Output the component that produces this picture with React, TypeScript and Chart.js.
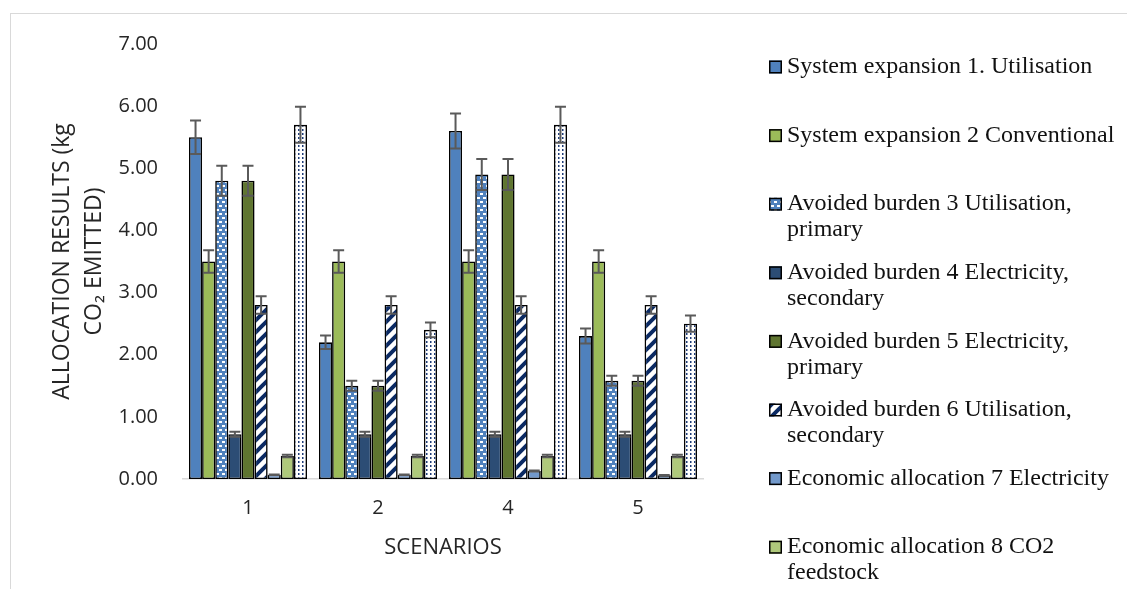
import React, { useEffect, useRef } from 'react';
import { Chart, registerables } from 'chart.js';

Chart.register(...registerables);

// ---------- data ----------
const scenarios = ['1', '2', '4', '5'];

const seriesNames = [
  'System expansion 1. Utilisation',
  'System expansion 2 Conventional',
  'Avoided burden 3 Utilisation, primary',
  'Avoided burden 4 Electricity, secondary',
  'Avoided burden 5 Electricity, primary',
  'Avoided burden 6 Utilisation, secondary',
  'Economic allocation 7 Electricity',
  'Economic allocation 8 CO2 feedstock',
  'Series 9',
];

const legendLines = [
  ['System expansion 1. Utilisation'],
  ['System expansion 2 Conventional'],
  ['Avoided burden 3 Utilisation,', 'primary'],
  ['Avoided burden 4 Electricity,', 'secondary'],
  ['Avoided burden 5 Electricity,', 'primary'],
  ['Avoided burden 6 Utilisation,', 'secondary'],
  ['Economic allocation 7 Electricity'],
  ['Economic allocation 8 CO2', 'feedstock'],
];

const sysExp1 = [5.5, 2.2, 5.6, 2.3];
const sysExp2 = [3.5, 3.5, 3.5, 3.5];
const avoided3 = [4.8, 1.5, 4.9, 1.58];
const avoided4 = [0.72, 0.72, 0.72, 0.72];
const avoided5 = [4.8, 1.5, 4.9, 1.58];
const avoided6 = [2.8, 2.8, 2.8, 2.8];
const econ7 = [0.07, 0.07, 0.13, 0.06];
const econ8 = [0.37, 0.37, 0.37, 0.37];
const series9 = [5.7, 2.4, 5.7, 2.5];

const err1 = [0.27, 0.11, 0.28, 0.12];
const err2 = [0.18, 0.18, 0.18, 0.18];
const err3 = [0.24, 0.08, 0.25, 0.08];
const err4 = [0.04, 0.04, 0.04, 0.04];
const err5 = [0.24, 0.08, 0.25, 0.08];
const err6 = [0.14, 0.14, 0.14, 0.14];
const err7 = [0.004, 0.004, 0.006, 0.003];
const err8 = [0.02, 0.02, 0.02, 0.02];
const err9 = [0.29, 0.12, 0.29, 0.13];

const yMin = 0;
const yMax = 7;
const yStep = 1;

const allSeries = [sysExp1, sysExp2, avoided3, avoided4, avoided5, avoided6, econ7, econ8, series9];
const allErrors = [err1, err2, err3, err4, err5, err6, err7, err8, err9];

// ---------- patterns ----------
function dashPattern(ctx: CanvasRenderingContext2D) {
  const c = document.createElement('canvas');
  c.width = 6; c.height = 8;
  const g = c.getContext('2d')!;
  g.fillStyle = '#4F81BD';
  g.fillRect(0, 0, 6, 8);
  g.fillStyle = '#ffffff';
  g.fillRect(0, 1, 3, 2);
  g.fillRect(3, 5, 3, 2);
  return ctx.createPattern(c, 'repeat')!;
}

function stripePattern(ctx: CanvasRenderingContext2D) {
  const s = 12;
  const c = document.createElement('canvas');
  c.width = s; c.height = s;
  const g = c.getContext('2d')!;
  g.fillStyle = '#ffffff';
  g.fillRect(0, 0, s, s);
  g.strokeStyle = '#0B2A63';
  g.lineWidth = 4;
  g.beginPath();
  g.moveTo(-2, s + 2); g.lineTo(s + 2, -2);
  g.moveTo(-2, 2); g.lineTo(2, -2);
  g.moveTo(s - 2, s + 2); g.lineTo(s + 2, s - 2);
  g.stroke();
  return ctx.createPattern(c, 'repeat')!;
}

function dotPattern(ctx: CanvasRenderingContext2D) {
  const c = document.createElement('canvas');
  c.width = 4; c.height = 4;
  const g = c.getContext('2d')!;
  g.fillStyle = '#ffffff';
  g.fillRect(0, 0, 4, 4);
  g.fillStyle = '#1F3C78';
  g.fillRect(2, 1, 1.5, 2);
  return ctx.createPattern(c, 'repeat')!;
}

// ---------- plugins ----------
const errorBarPlugin = {
  id: 'errorBars',
  afterDatasetsDraw(chart: any) {
    const { ctx } = chart;
    const y = chart.scales.y;
    ctx.save();
    ctx.strokeStyle = '#5A5A5A';
    ctx.lineWidth = 2;
    chart.data.datasets.forEach((ds: any, i: number) => {
      const meta = chart.getDatasetMeta(i);
      const errs = allErrors[i];
      meta.data.forEach((bar: any, j: number) => {
        const v = ds.data[j];
        const e = errs[j];
        const yt = y.getPixelForValue(v + e);
        const yb = y.getPixelForValue(Math.max(0, v - e));
        const x = bar.x;
        const hw = 5.5;
        ctx.beginPath();
        ctx.moveTo(x, yt); ctx.lineTo(x, yb);
        ctx.moveTo(x - hw, yt); ctx.lineTo(x + hw, yt);
        ctx.moveTo(x - hw, yb); ctx.lineTo(x + hw, yb);
        ctx.stroke();
      });
    });
    ctx.restore();
  },
};

const legendPlugin = {
  id: 'customLegend',
  afterDraw(chart: any) {
    const { ctx } = chart;
    ctx.save();
    ctx.font = "24px 'Liberation Serif'";
    ctx.textBaseline = 'middle';
    ctx.textAlign = 'left';
    legendLines.forEach((lines, i) => {
      const yc = 67 + i * 68.6;
      const ds = chart.data.datasets[i];
      ctx.fillStyle = ds.backgroundColor;
      ctx.fillRect(769, yc - 6.5, 13, 13);
      ctx.strokeStyle = '#000';
      ctx.lineWidth = 1.5;
      ctx.strokeRect(769.75, yc - 5.75, 11.5, 11.5);
      ctx.fillStyle = '#111111';
      lines.forEach((t, k) => {
        ctx.fillText(t, 787, yc + k * 26);
      });
    });
    ctx.restore();
  },
};

export default function App() {
  const canvasRef = useRef<HTMLCanvasElement>(null);

  useEffect(() => {
    const canvas = canvasRef.current!;
    const ctx = canvas.getContext('2d')!;
    const fills: any[] = [
      '#4F81BD',
      '#9BBB59',
      dashPattern(ctx),
      '#2C4D75',
      '#5F7530',
      stripePattern(ctx),
      '#7299CB',
      '#AFC97B',
      dotPattern(ctx),
    ];
    const chart = new Chart(canvas, {
      type: 'bar',
      data: {
        labels: scenarios,
        datasets: allSeries.map((d, i) => ({
          label: seriesNames[i],
          data: d,
          backgroundColor: fills[i],
          borderColor: '#000000',
          borderWidth: 1.6,
          borderSkipped: false,
          barPercentage: 1,
          categoryPercentage: 0.908,
        })),
      },
      options: {
        responsive: false,
        devicePixelRatio: 1,
        animation: false,
        layout: { padding: { top: 44, right: 424, bottom: 0, left: 0 } },
        plugins: {
          legend: { display: false },
          tooltip: { enabled: false },
        },
        scales: {
          x: {
            grid: { display: false, drawTicks: false },
            border: { display: true, color: '#D9D9D9', width: 1.5 },
            ticks: {
              color: '#262626',
              font: { family: "'Open Sans'", size: 20 },
              padding: 17,
            },
            title: {
              display: true,
              text: 'SCENARIOS',
              color: '#262626',
              font: { family: "'Open Sans'", size: 22 },
              padding: { top: 0, bottom: 28 },
            },
            afterFit(scale: any) {
              scale.height = 110;
            },
          },
          y: {
            min: yMin,
            max: yMax,
            grid: { display: false, drawTicks: false },
            border: { display: false },
            ticks: {
              stepSize: yStep,
              color: '#262626',
              font: { family: "'Open Sans'", size: 20 },
              padding: 25,
              callback: (v: any) => Number(v).toFixed(2),
            },
            title: {
              display: true,
              text: ['ALLOCATION RESULTS (kg', 'CO\u2082 EMITTED)'],
              color: '#262626',
              font: { family: "'Open Sans'", size: 23, lineHeight: 1.4 },
              padding: { top: 46, bottom: 0 },
            },
            afterFit(scale: any) {
              scale.width = 183;
            },
          },
        },
      },
      plugins: [errorBarPlugin, legendPlugin],
    } as any);
    return () => chart.destroy();
  }, []);

  return (
    <div
      style={{
        position: 'absolute',
        left: 0,
        top: 0,
        width: 1127,
        height: 589,
        overflow: 'hidden',
        background: '#ffffff',
      }}
    >
      <div
        style={{
          position: 'absolute',
          left: 10,
          top: 13,
          width: 1300,
          height: 800,
          borderTop: '1.5px solid #D9D9D9',
          borderLeft: '1.5px solid #D9D9D9',
        }}
      />
      <canvas
        ref={canvasRef}
        width={1127}
        height={589}
        style={{ position: 'absolute', left: 0, top: 0 }}
      />
    </div>
  );
}
